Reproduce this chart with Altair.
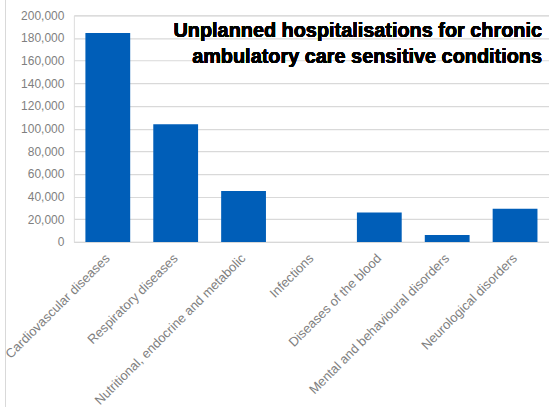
import altair as alt
import pandas as pd

# Unplanned hospitalisations by condition group
conditions = [
    "Cardiovascular diseases",
    "Respiratory diseases",
    "Nutritional, endocrine and metabolic",
    "Infections",
    "Diseases of the blood",
    "Mental and behavioural disorders",
    "Neurological disorders",
]
admissions = [184400, 103800, 44900, 0, 26000, 6200, 29300]

title_lines = "Unplanned hospitalisations for chronic\nambulatory care sensitive conditions"

df = pd.DataFrame({"condition": conditions, "admissions": admissions})

W, H = 476, 227
LABEL_GREY = "#7f7f7f"
GRID_GREY = "#d9d9d9"

bars = alt.Chart(df).mark_bar(color="#005EB8").encode(
    x=alt.X(
        "condition:N",
        sort=conditions,
        title=None,
        scale=alt.Scale(paddingInner=0.34, paddingOuter=0.17),
        axis=alt.Axis(
            labelAngle=-45,
            labelAlign="right",
            labelBaseline="middle",
            labelColor=LABEL_GREY,
            labelFont="Liberation Sans",
            labelFontSize=13,
            labelPadding=14,
            ticks=False,
            domainColor=GRID_GREY,
            labelLimit=300,
        ),
    ),
    y=alt.Y(
        "admissions:Q",
        title=None,
        scale=alt.Scale(domain=[0, 200000], nice=False),
        axis=alt.Axis(
            values=list(range(0, 200001, 20000)),
            format=",d",
            labelColor=LABEL_GREY,
            labelFont="Liberation Sans",
            labelFontSize=12,
            labelPadding=10,
            ticks=False,
            domain=False,
            gridColor=GRID_GREY,
            gridWidth=1.2,
        ),
    ),
)

# chart heading, set inside the plot area at the top right
heading = alt.Chart(df).mark_text(
    align="right",
    baseline="alphabetic",
    font="Liberation Sans",
    fontSize=19.9,
    fontWeight="bold",
    color="#000000",
    lineBreak="\n",
    lineHeight=25.6,
).encode(x=alt.value(469), y=alt.value(21.7), text=alt.value(title_lines))

# thin frame line along the left edge of the chart area
frame = alt.Chart(df).mark_rule(color="#d9d9d9", strokeWidth=1).encode(
    x=alt.value(-68.5), y=alt.value(-15), y2=alt.value(392)
)

chart = (
    alt.layer(frame, bars, heading)
    .properties(
        width=W,
        height=H,
        autosize=alt.AutoSizeParams(type="none"),
        padding={"left": 74, "top": 15, "right": 0, "bottom": 165},
    )
    .configure_view(stroke=None)
    .configure(background="white")
)

chart.save("out.html", embed_options={"renderer": "svg", "actions": False})
